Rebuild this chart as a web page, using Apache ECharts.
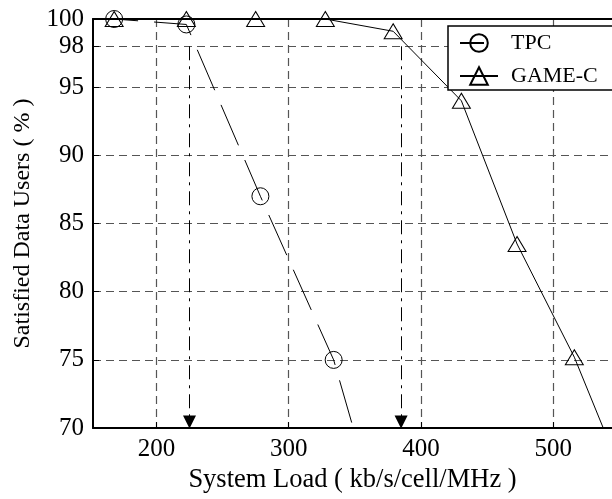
<!DOCTYPE html>
<html>
<head>
<meta charset="utf-8">
<script src="https://cdn.jsdelivr.net/npm/echarts@6/dist/echarts.min.js"></script>
<style>
  html, body { margin: 0; padding: 0; background: #fff; }
</style>
</head>
<body>
<div id="chart" style="width: 612px; height: 499px;"></div>
<script>
// values
const tpcLoad = [168, 222.6, 278.6, 334, 389.5];
const tpcSatisfied = [100, 99.6, 87.0, 75.0, 56.3];
const gameLoad = [168, 222.6, 275, 327.7, 379, 430.6, 472.7, 516, 559];
const gameSatisfied = [100, 100, 100, 100, 99.1, 94.0, 83.5, 75.2, 65.0];
const capacityMarks = [225, 385];
const xTicks = [200, 300, 400, 500];
const yTicks = [70, 75, 80, 85, 90, 95, 98, 100];

const font = 'Liberation Serif';

let chart = echarts.init(document.getElementById('chart'));

let option = {
  animation: false,
  grid: {
    left: 93,
    top: 19,
    right: 0,
    bottom: 68
  },
  legend: {
    orient: 'vertical',
    left: 448,
    top: 26,
    padding: [6, 40, 3, 11],
    itemGap: 11,
    itemWidth: 38,
    itemHeight: 22,
    backgroundColor: '#fff',
    borderColor: '#000',
    borderWidth: 1.5,
    borderRadius: 0,
    textStyle: {
      fontFamily: font,
      fontSize: 22,
      color: '#000',
      padding: [0, 0, 0, 8]
    },
    data: ['TPC', 'GAME-C']
  },
  xAxis: [
    {
      type: 'value',
      min: 152,
      max: 544.5,
      name: 'System Load ( kb/s/cell/MHz )',
      nameLocation: 'middle',
      nameGap: 35,
      nameTextStyle: { fontFamily: font, fontSize: 26.5, color: '#000' },
      axisLine: { lineStyle: { color: '#000', width: 2 } },
      axisTick: { inside: true, length: 6, customValues: xTicks, lineStyle: { color: '#000' } },
      axisLabel: { customValues: xTicks, margin: 9, fontFamily: font, fontSize: 25, color: '#000' },
      splitLine: { show: true, lineStyle: { color: '#555', width: 1.2, type: [8, 5] } }
    },
    {
      // top border of the plot
      type: 'value',
      position: 'top',
      min: 152,
      max: 544.5,
      axisLine: { show: true, lineStyle: { color: '#000', width: 2 } },
      axisTick: { show: false },
      axisLabel: { show: false },
      splitLine: { show: false }
    }
  ],
  yAxis: {
    type: 'value',
    min: 70,
    max: 100,
    name: 'Satisfied Data Users ( % )',
    nameLocation: 'middle',
    nameGap: 58,
    nameTextStyle: { fontFamily: font, fontSize: 24, color: '#000' },
    axisLine: { show: true, lineStyle: { color: '#000', width: 2 } },
    axisTick: { show: true, inside: true, length: 6, customValues: yTicks, lineStyle: { color: '#000' } },
    axisLabel: { customValues: yTicks, margin: 9, fontFamily: font, fontSize: 25, color: '#000' },
    splitLine: { show: true, lineStyle: { color: '#555', width: 1.2, type: [8, 5] } }
  },
  series: [
    {
      name: 'TPC',
      type: 'line',
      data: tpcLoad.map((x, i) => [x, tpcSatisfied[i]]),
      symbol: 'circle',
      symbolSize: 17,
      color: '#000',
      itemStyle: { color: 'transparent', borderColor: '#000', borderWidth: 1 },
      lineStyle: { color: '#000', width: 1, type: [44, 16], dashOffset: 20 },
      z: 3,
      markLine: {
        silent: true,
        symbol: ['none', 'triangle'],
        symbolSize: 13,
        label: { show: false },
        lineStyle: { color: '#000', width: 1, type: [14, 6, 3, 6] },
        data: capacityMarks.map(x => [{ coord: [x, 98] }, { coord: [x, 70.45] }])
      }
    },
    {
      name: 'GAME-C',
      type: 'line',
      data: gameLoad.map((x, i) => [x, gameSatisfied[i]]),
      symbol: 'triangle',
      symbolSize: [18, 15],
      color: '#000',
      itemStyle: { color: 'transparent', borderColor: '#000', borderWidth: 1 },
      lineStyle: { color: '#000', width: 1 },
      z: 3
    }
  ]
};

chart.setOption(option);
</script>
</body>
</html>
